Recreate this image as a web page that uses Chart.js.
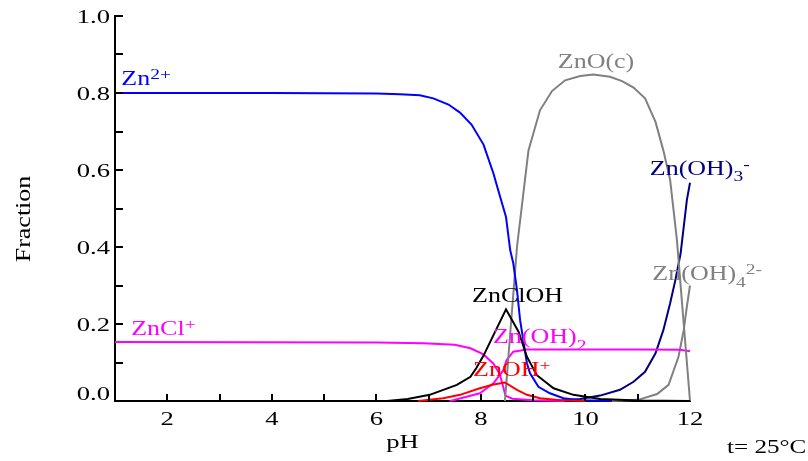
<!DOCTYPE html>
<html>
<head>
<meta charset="utf-8">
<script src="https://cdn.jsdelivr.net/npm/chart.js@4.4.1/dist/chart.umd.min.js"></script>
<style>
  html, body { margin: 0; padding: 0; background: #ffffff; }
  #wrap { width: 808px; height: 461px; position: relative; }
</style>
</head>
<body>
<div id="wrap"><canvas id="c" width="808" height="461"></canvas></div>
<script>
// Zinc speciation (fraction of total Zn) against pH at 25 °C

// Zn2+
const zn2pH   = [1, 4, 6, 6.45, 6.83, 7.09, 7.38, 7.60, 7.82, 8.05, 8.24, 8.33, 8.48, 8.56, 8.62, 8.69, 8.75, 8.88, 8.94, 9.10, 9.32, 9.58, 9.90, 10.5];
const zn2Frac = [0.800, 0.800, 0.799, 0.797, 0.794, 0.786, 0.770, 0.749, 0.718, 0.666, 0.591, 0.548, 0.478, 0.392, 0.357, 0.288, 0.210, 0.098, 0.072, 0.037, 0.020, 0.007, 0.002, 0.000];

// ZnCl+
const znClpH   = [1, 6, 6.9, 7.5, 7.8, 8.05, 8.24, 8.36, 8.42, 8.47, 8.6, 9.0, 9.6];
const znClFrac = [0.153, 0.152, 0.150, 0.146, 0.137, 0.121, 0.097, 0.070, 0.040, 0.014, 0.006, 0.002, 0.000];

// Zn(OH)2 (aq)
const znOH2pH   = [7.4, 7.47, 7.98, 8.24, 8.43, 8.49, 8.62, 8.88, 10, 11, 11.8, 12];
const znOH2Frac = [0.000, 0.002, 0.020, 0.046, 0.080, 0.106, 0.128, 0.134, 0.134, 0.134, 0.133, 0.129];

// ZnOH+
const znOHpH   = [6.8, 7.28, 7.60, 7.98, 8.24, 8.46, 8.69, 8.88, 9.13, 9.52, 10.0];
const znOHFrac = [0.000, 0.007, 0.016, 0.033, 0.043, 0.048, 0.029, 0.016, 0.007, 0.002, 0.000];

// ZnClOH
const znClOHpH   = [6.2, 6.6, 7.02, 7.54, 7.80, 7.91, 8.05, 8.24, 8.48, 8.72, 8.88, 9.07, 9.39, 9.77, 10.28, 11.0, 12.0];
const znClOHFrac = [0.000, 0.005, 0.016, 0.042, 0.063, 0.085, 0.118, 0.171, 0.238, 0.180, 0.115, 0.067, 0.033, 0.016, 0.005, 0.001, 0.000];

// ZnO(c) solid
const znOpH   = [8.46, 8.69, 8.91, 9.13, 9.36, 9.61, 9.90, 10.15, 10.47, 10.70, 10.92, 11.14, 11.34, 11.49, 11.62, 11.75, 12.0];
const znOFrac = [0.000, 0.400, 0.651, 0.755, 0.805, 0.833, 0.844, 0.848, 0.842, 0.831, 0.814, 0.786, 0.725, 0.651, 0.574, 0.418, 0.000];

// Zn(OH)3-
const znOH3pH   = [9.4, 9.90, 10.28, 10.66, 10.92, 11.14, 11.34, 11.49, 11.62, 11.72, 11.82, 11.88, 11.94, 12.0];
const znOH3Frac = [0.000, 0.005, 0.014, 0.029, 0.050, 0.076, 0.124, 0.184, 0.254, 0.314, 0.383, 0.452, 0.522, 0.567];

// Zn(OH)4 2-
const znOH4pH   = [10.5, 11.01, 11.37, 11.59, 11.78, 11.88, 11.94, 12.0];
const znOH4Frac = [0.000, 0.003, 0.018, 0.042, 0.115, 0.184, 0.245, 0.300];

// Axis ticks and their labels
const xTickValues  = [2, 3, 4, 5, 6, 7, 8, 9, 10, 11];
const xLabelValues = [2, 4, 6, 8, 10, 12];
const xTickLabels  = ['2', '4', '6', '8', '10', '12'];
const yTickValues  = [0.1, 0.2, 0.3, 0.4, 0.5, 0.6, 0.7, 0.8, 0.9, 1.0];
const yLabelValues = [0, 0.2, 0.4, 0.6, 0.8, 1.0];
const yTickLabels  = ['0.0', '0.2', '0.4', '0.6', '0.8', '1.0'];
const xTitle = 'pH';
const yTitle = 'Fraction';
const tempNote = 't= 25°C';

// Curve labels: text pieces (plain / sup / sub), colour, anchor in data units (left, baseline)
const curveLabels = [
  { parts: [['Zn'], ['2+', 'sup']], color: '#0000ff', at: [1.12, 0.821] },
  { parts: [['ZnCl'], ['+', 'sup']], color: '#ff00ff', at: [1.31, 0.171] },
  { parts: [['ZnClOH']], color: '#000000', at: [7.83, 0.258] },
  { parts: [['Zn(OH)'], ['2', 'sub']], color: '#ff00ff', at: [8.23, 0.150] },
  { parts: [['ZnOH'], ['+', 'sup']], color: '#ff0000', at: [7.85, 0.065] },
  { parts: [['ZnO(c)']], color: '#808080', at: [9.47, 0.864] },
  { parts: [['Zn(OH)'], ['3', 'sub'], ['-', 'sup']], color: '#000080', at: [11.23, 0.587] },
  { parts: [['Zn(OH)'], ['4', 'sub'], ['2-', 'sup']], color: '#808080', at: [11.28, 0.314] }
];

function pairs(xs, ys) { return xs.map((x, i) => ({ x: x, y: ys[i] })); }

function series(label, xs, ys, color) {
  return {
    label: label,
    data: pairs(xs, ys),
    borderColor: color,
    backgroundColor: color,
    borderWidth: 2,
    pointRadius: 0,
    showLine: true,
    tension: 0,
    clip: false
  };
}

const FONT = '"Liberation Serif", "Times New Roman", serif';

// Draws a run of text with sup/sub pieces, stretched along its own direction.
function drawRich(ctx, parts, x, y, size, sx, color, align, rot) {
  ctx.save();
  ctx.translate(x, y);
  if (rot) ctx.rotate(rot);
  ctx.scale(sx, 1);
  ctx.fillStyle = color;
  ctx.textAlign = 'left';
  ctx.textBaseline = 'alphabetic';
  let w = 0;
  const segs = parts.map(p => {
    const kind = p[1];
    const s = kind ? Math.round(size * 0.74) : size;
    ctx.font = s + 'px ' + FONT;
    const dy = kind === 'sup' ? -size * 0.3 : (kind === 'sub' ? size * 0.32 : 0);
    const seg = { t: p[0], s: s, dy: dy, x: w };
    w += ctx.measureText(p[0]).width;
    return seg;
  });
  const off = align === 'right' ? -w : (align === 'center' ? -w / 2 : 0);
  segs.forEach(seg => {
    ctx.font = seg.s + 'px ' + FONT;
    ctx.fillText(seg.t, off + seg.x, seg.dy);
  });
  ctx.restore();
}

const axisDecor = {
  id: 'axisDecor',
  afterDraw(chart) {
    const ctx = chart.ctx;
    const xs = chart.scales.x, ys = chart.scales.y;
    const area = chart.chartArea;
    ctx.save();
    ctx.strokeStyle = '#000000';
    ctx.lineWidth = 2;
    // inward tick marks
    ctx.beginPath();
    xTickValues.forEach(v => {
      const px = Math.round(xs.getPixelForValue(v));
      ctx.moveTo(px, area.bottom);
      ctx.lineTo(px, area.bottom - 7);
    });
    yTickValues.forEach(v => {
      const py = Math.round(ys.getPixelForValue(v));
      ctx.moveTo(area.left, py);
      ctx.lineTo(area.left + 8, py);
    });
    ctx.stroke();
    ctx.restore();

    // tick labels
    xLabelValues.forEach((v, i) => {
      drawRich(ctx, [[xTickLabels[i]]], xs.getPixelForValue(v), area.bottom + 24, 19, 1.4, '#000000', 'center');
    });
    yLabelValues.forEach((v, i) => {
      const lift = v === 0 ? -8 : 0;
      drawRich(ctx, [[yTickLabels[i]]], area.left - 5, ys.getPixelForValue(v) + 6.5 + lift, 19, 1.4, '#000000', 'right');
    });

    // axis titles
    drawRich(ctx, [[xTitle]], (area.left + area.right) / 2, 448, 19, 1.4, '#000000', 'center');
    drawRich(ctx, [[yTitle]], 30, 219, 20, 1.3, '#000000', 'center', -Math.PI / 2);

    // curve labels
    curveLabels.forEach(l => {
      drawRich(ctx, l.parts, xs.getPixelForValue(l.at[0]), ys.getPixelForValue(l.at[1]), 20, 1.3, l.color, 'left');
    });

    // temperature note
    drawRich(ctx, [[tempNote]], 727, 453, 19, 1.32, '#000000', 'left');
  }
};

new Chart(document.getElementById('c'), {
  type: 'scatter',
  data: {
    datasets: [
      series('ZnOH+', znOHpH, znOHFrac, '#ff0000'),
      series('ZnClOH', znClOHpH, znClOHFrac, '#000000'),
      series('Zn2+', zn2pH, zn2Frac, '#0000ff'),
      series('ZnO(c)', znOpH, znOFrac, '#808080'),
      series('ZnCl+', znClpH, znClFrac, '#ff00ff'),
      series('Zn(OH)2', znOH2pH, znOH2Frac, '#ff00ff'),
      series('Zn(OH)3-', znOH3pH, znOH3Frac, '#000080'),
      series('Zn(OH)4 2-', znOH4pH, znOH4Frac, '#808080')
    ]
  },
  options: {
    responsive: false,
    animation: false,
    devicePixelRatio: 1,
    layout: { padding: { top: 16, right: 118, left: 0, bottom: 0 } },
    plugins: { legend: { display: false }, tooltip: { enabled: false } },
    scales: {
      x: {
        type: 'linear', min: 1, max: 12,
        grid: { display: false },
        border: { display: true, color: '#000000', width: 2 },
        ticks: { display: false },
        afterFit(s) { s.height = 60; }
      },
      y: {
        type: 'linear', min: 0, max: 1.0,
        grid: { display: false },
        border: { display: true, color: '#000000', width: 2 },
        ticks: { display: false },
        afterFit(s) { s.width = 115; }
      }
    }
  },
  plugins: [axisDecor]
});
</script>
</body>
</html>
